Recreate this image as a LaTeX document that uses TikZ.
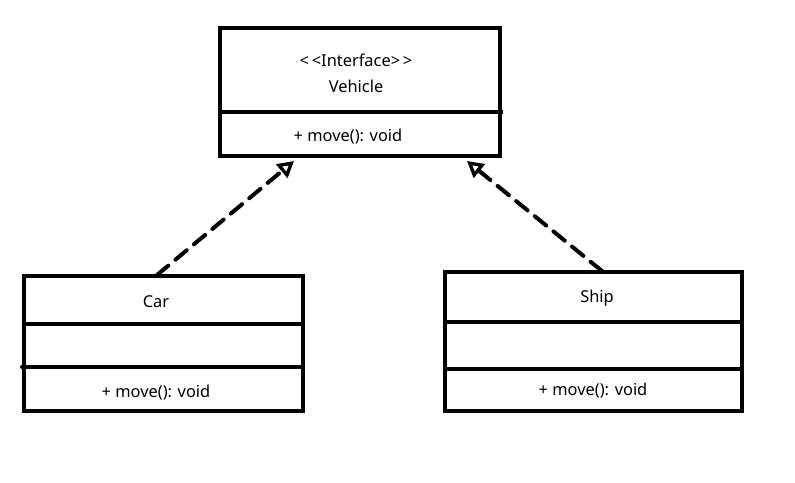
\documentclass[tikz,border=0pt]{standalone}
\usepackage{fontspec}
\setmainfont{Noto Sans}
\usetikzlibrary{arrows.meta}
\begin{document}
\begin{tikzpicture}[x=0.75pt,y=-0.75pt,
  umlbox/.style={draw, line width=3pt, inner sep=0pt},
  divider/.style={line width=3pt},
  lbl/.style={font=\fontsize{12.3}{14}\selectfont, inner sep=0pt},
  realize/.style={line width=3pt, dash pattern=on 11pt off 7pt, line cap=round,
    -{Triangle[open, length=12pt, width=13pt, line width=2.5pt]}}]
\useasboundingbox (0,0) rectangle (795,482);
% boxes
\node[umlbox, minimum width=210pt, minimum height=96pt] (veh) at (360,92) {};
\node[umlbox, minimum width=209.25pt, minimum height=101.25pt] (car) at (163.5,343.5) {};
\node[umlbox, minimum width=222.75pt, minimum height=104.25pt] (ship) at (593.5,341.5) {};
% dividers
\draw[divider] (220,112) -- (503,112);
\draw[divider, line cap=round] (22,367) -- (303,367);
\draw[divider] (24,324) -- (303,324);
\draw[divider] (445,322) -- (742,322);
\draw[divider] (445,369) -- (742,369);
% texts
\node[lbl] (vst) at (356,60) {\textless\,\textless Interface\textgreater\,\textgreater};
\node[lbl] (vname) at (356,86) {Vehicle};
\node[lbl] (vop) at (348,137) {+ move(): void};
\node[lbl] (cname) at (156,302) {Car};
\node[lbl] (cop) at (156,393) {+ move(): void};
\node[lbl] (sname) at (597,298) {Ship};
\node[lbl] (sop) at (593,391) {+ move(): void};
% connectors
\coordinate (cstart) at (157,275);
\coordinate (cend) at (294,161);
\coordinate (sstart) at (602,271);
\coordinate (send) at (467,161);
\draw[realize] (cstart) -- (cend);
\draw[realize] (sstart) -- (send);
\end{tikzpicture}
\end{document}
